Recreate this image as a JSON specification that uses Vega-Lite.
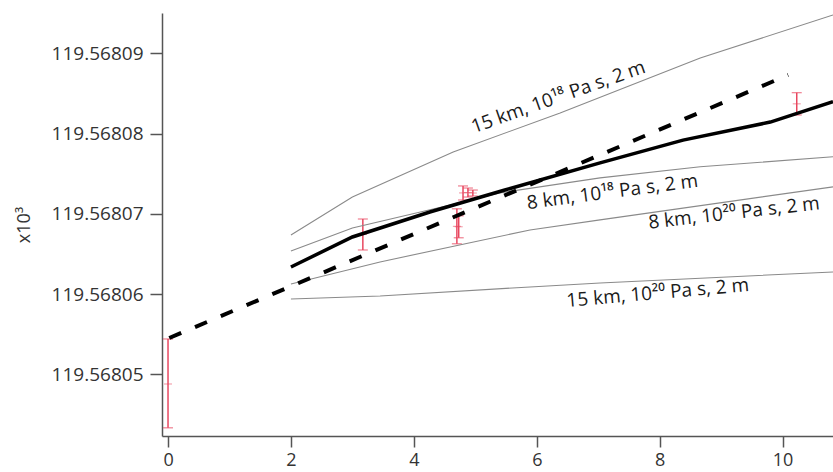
{
  "$schema": "https://vega.github.io/schema/vega-lite/v6.json",
  "width": 671,
  "height": 423,
  "autosize": "none",
  "padding": {"left": 162, "top": 13, "right": 0, "bottom": 36},
  "background": "white",
  "config": {
    "view": {"stroke": null},
    "font": "Open Sans",
    "axis": {
      "grid": false,
      "domainColor": "#555555",
      "domainWidth": 1.5,
      "tickColor": "#555555",
      "tickWidth": 1.5,
      "labelColor": "#333333",
      "labelFontSize": 19,
      "labelFont": "Open Sans",
      "titleFont": "Open Sans",
      "titleColor": "#333333",
      "titleFontWeight": "normal"
    }
  },
  "datasets": {
    "lines": [
      {"s": "fit", "x": 0.02, "y": 119.56805452},
      {"s": "fit", "x": 10.09, "y": 119.5680873},
      {"s": "obs", "x": 2.0, "y": 119.56806337},
      {"s": "obs", "x": 3.0, "y": 119.56806711},
      {"s": "obs", "x": 4.26, "y": 119.56807022},
      {"s": "obs", "x": 5.48, "y": 119.56807296},
      {"s": "obs", "x": 7.03, "y": 119.56807634},
      {"s": "obs", "x": 8.38, "y": 119.56807918},
      {"s": "obs", "x": 9.8, "y": 119.56808143},
      {"s": "obs", "x": 10.82, "y": 119.56808396},
      {"s": "m15_18", "x": 2.0, "y": 119.56806736},
      {"s": "m15_18", "x": 3.0, "y": 119.5680721},
      {"s": "m15_18", "x": 4.64, "y": 119.56807771},
      {"s": "m15_18", "x": 6.38, "y": 119.56808256},
      {"s": "m15_18", "x": 8.66, "y": 119.56808941},
      {"s": "m15_18", "x": 10.82, "y": 119.56809477},
      {"s": "m8_18", "x": 2.0, "y": 119.56806536},
      {"s": "m8_18", "x": 3.0, "y": 119.56806823},
      {"s": "m8_18", "x": 4.59, "y": 119.5680711},
      {"s": "m8_18", "x": 5.4, "y": 119.56807261},
      {"s": "m8_18", "x": 7.03, "y": 119.56807448},
      {"s": "m8_18", "x": 8.66, "y": 119.56807586},
      {"s": "m8_18", "x": 10.82, "y": 119.56807711},
      {"s": "m8_20", "x": 2.0, "y": 119.56806125},
      {"s": "m8_20", "x": 3.45, "y": 119.568064},
      {"s": "m8_20", "x": 5.89, "y": 119.56806799},
      {"s": "m8_20", "x": 7.03, "y": 119.56806924},
      {"s": "m8_20", "x": 10.82, "y": 119.56807336},
      {"s": "m15_20", "x": 2.0, "y": 119.56805938},
      {"s": "m15_20", "x": 3.45, "y": 119.56805976},
      {"s": "m15_20", "x": 5.89, "y": 119.56806088},
      {"s": "m15_20", "x": 7.03, "y": 119.56806138},
      {"s": "m15_20", "x": 10.82, "y": 119.56806275}
    ],
    "bars": [
      {"x": 0.0, "lo": 119.56804333, "hi": 119.5680544, "c": 119.56804879},
      {"x": 3.17, "lo": 119.56806549, "hi": 119.56806935, "c": 119.56806742},
      {"x": 4.7, "lo": 119.56806626, "hi": 119.56807062, "c": 119.56806844},
      {"x": 4.73, "lo": 119.56806701, "hi": 119.56806975, "c": 119.56806838},
      {"x": 4.8, "lo": 119.56807172, "hi": 119.56807347, "c": 119.5680726},
      {"x": 4.88, "lo": 119.56807209, "hi": 119.56807321, "c": 119.56807265},
      {"x": 4.96, "lo": 119.56807222, "hi": 119.56807296, "c": 119.56807259},
      {"x": 10.23, "lo": 119.56808231, "hi": 119.56808509, "c": 119.5680837}
    ],
    "labels": [
      {"id": "a", "x": 6.35, "y": 119.56808455, "t": "15 km, 10¹⁸ Pa s, 2 m"},
      {"id": "b", "x": 7.23, "y": 119.56807272, "t": "8 km, 10¹⁸ Pa s, 2 m"},
      {"id": "c", "x": 9.21, "y": 119.5680701, "t": "8 km, 10²⁰ Pa s, 2 m"},
      {"id": "d", "x": 7.97, "y": 119.56806013, "t": "15 km, 10²⁰ Pa s, 2 m"}
    ]
  },
  "encoding": {
    "x": {
      "field": "x", "type": "quantitative",
      "scale": {"domain": [-0.098, 10.82], "nice": false, "zero": false},
      "axis": {"values": [0, 2, 4, 6, 8, 10], "title": null, "tickSize": 11, "labelPadding": 4, "labelFontSize": 18}
    },
    "y": {
      "field": "y", "type": "quantitative",
      "scale": {"domain": [119.56804231, 119.56809502], "nice": false, "zero": false},
      "axis": {
        "values": [119.56805, 119.56806, 119.56807, 119.56808, 119.56809],
        "format": ".5f", "tickSize": 12, "labelPadding": 7,
        "title": "x10³", "titleFontSize": 18, "titlePadding": 18
      }
    }
  },
  "layer": [
    {
      "data": {"name": "bars"},
      "mark": {"type": "rule", "color": "#e8475f", "strokeWidth": 1.5, "clip": true},
      "encoding": {"y": {"field": "lo", "type": "quantitative"}, "y2": {"field": "hi"}}
    },
    {
      "data": {"name": "bars"},
      "mark": {"type": "tick", "orient": "horizontal", "color": "#e8475f", "size": 10, "thickness": 1.2, "clip": true},
      "encoding": {"y": {"field": "lo", "type": "quantitative"}}
    },
    {
      "data": {"name": "bars"},
      "mark": {"type": "tick", "orient": "horizontal", "color": "#e8475f", "size": 10, "thickness": 1.2, "clip": true},
      "encoding": {"y": {"field": "hi", "type": "quantitative"}}
    },
    {
      "data": {"name": "bars"},
      "mark": {"type": "tick", "orient": "horizontal", "color": "#e8475f", "opacity": 0.6, "size": 8, "thickness": 1, "clip": true},
      "encoding": {"y": {"field": "c", "type": "quantitative"}}
    },
    {
      "data": {"name": "lines"},
      "transform": [{"filter": "indexof(['m15_18','m8_18','m8_20','m15_20'], datum.s) >= 0"}],
      "mark": {"type": "line", "color": "#8a8a8a", "strokeWidth": 1.1, "clip": true},
      "encoding": {"detail": {"field": "s"}}
    },
    {
      "data": {"name": "lines"},
      "transform": [{"filter": "datum.s == 'obs'"}],
      "mark": {"type": "line", "color": "#000000", "strokeWidth": 3.5, "clip": true},
      "encoding": {}
    },
    {
      "data": {"name": "lines"},
      "transform": [{"filter": "datum.s == 'fit'"}],
      "mark": {"type": "line", "color": "#000000", "strokeWidth": 4, "strokeDash": [13, 15], "clip": true},
      "encoding": {}
    },
    {
      "data": {"name": "labels"},
      "transform": [{"filter": "datum.id == 'a'"}],
      "mark": {"type": "text", "angle": -19.5, "fontSize": 19, "color": "#1a1a1a", "align": "center", "baseline": "middle"},
      "encoding": {"text": {"field": "t"}}
    },
    {
      "data": {"name": "labels"},
      "transform": [{"filter": "datum.id == 'b'"}],
      "mark": {"type": "text", "angle": -7.5, "fontSize": 19, "color": "#1a1a1a", "align": "center", "baseline": "middle"},
      "encoding": {"text": {"field": "t"}}
    },
    {
      "data": {"name": "labels"},
      "transform": [{"filter": "datum.id == 'c'"}],
      "mark": {"type": "text", "angle": -6.5, "fontSize": 19, "color": "#1a1a1a", "align": "center", "baseline": "middle"},
      "encoding": {"text": {"field": "t"}}
    },
    {
      "data": {"name": "labels"},
      "transform": [{"filter": "datum.id == 'd'"}],
      "mark": {"type": "text", "angle": -5, "fontSize": 19, "color": "#1a1a1a", "align": "center", "baseline": "middle"},
      "encoding": {"text": {"field": "t"}}
    }
  ]
}
